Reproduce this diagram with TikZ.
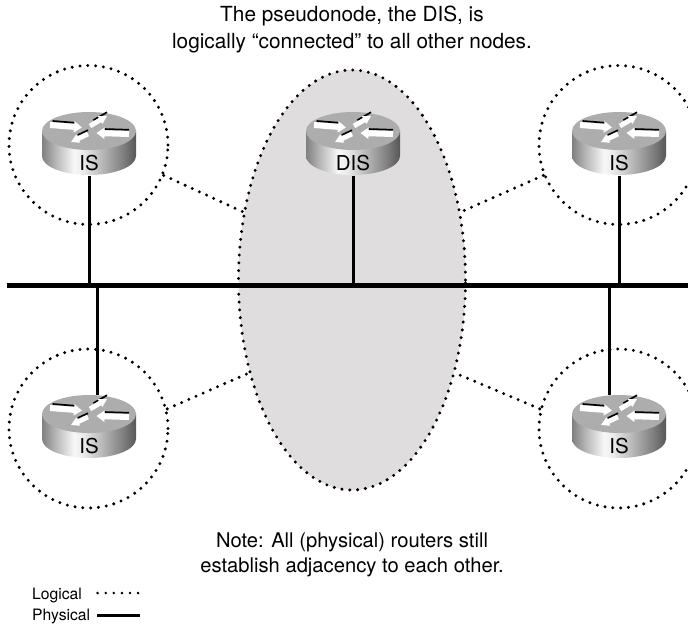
\documentclass[tikz,border=0pt]{standalone}
\usepackage{fontspec}
\setmainfont{TeX Gyre Heros}
\usetikzlibrary{shapes.geometric,calc}
\definecolor{pseudo}{HTML}{E0DDDE}
\pgfdeclarehorizontalshading{rside}{100bp}{
  color(0bp)=(black!50); color(25bp)=(black!50); color(31bp)=(black!32);
  color(42bp)=(black!3); color(47bp)=(black!8); color(58bp)=(black!30);
  color(68bp)=(black!50); color(75bp)=(black!66); color(100bp)=(black!66)}
\tikzset{
  dotline/.style={line width=3.3pt,line cap=round,dash pattern=on 0pt off 7.85pt},
  logical/.style={draw,dotline,shape=circle,minimum size=159pt,inner sep=0pt},
  pseudonode/.style={shape=ellipse,fill=pseudo,draw,dotline,minimum width=227pt,minimum height=420pt,inner sep=0pt},
  bus/.style={line width=5pt},
  phys/.style={line width=3pt},
  rnode/.style={shape=rectangle,minimum width=94pt,minimum height=63pt,inner sep=0pt},
  rlabel/.style={font=\fontsize{20.5}{20.5}\selectfont,inner sep=0pt},
  legend/.style={font=\fontsize{15.7}{16}\selectfont,anchor=west,inner sep=0pt},
  legdots/.style={line width=2.8pt,line cap=round,dash pattern=on 0pt off 8.1pt},
}
\newcommand{\rarrow}[9]{% tail x,y; tip x,y; shaft half width; head half width; black-line start and end fractions; black offset
  \pgfmathsetmacro{\ang}{-atan2(#4-#2,#3-#1)}
  \pgfmathsetmacro{\len}{veclen(#3-#1,#4-#2)}
  \draw[line width=1.7pt,black] ($(#1,#2)!#7!(#3,#4)+(0,#9)$) -- ($(#1,#2)!#8!(#3,#4)+(0,#9)$);
  \begin{scope}[shift={(#1,#2)},rotate=\ang]
    \fill[white] (0,-#5) -- (\len-8,-#5) -- (\len-8,-#6) -- (\len,0) -- (\len-8,#6) -- (\len-8,#5) -- (0,#5) -- cycle;
  \end{scope}
}
\newcommand{\router}[2]{% centre of the top ellipse
  \begin{scope}[shift={(#1,#2)}]
    \shade[shading=rside] (-47,0) -- (-47,25)
      .. controls (-47,35.5) and (-26,44) .. (0,44)
      .. controls (26,44) and (47,35.5) .. (47,25) -- (47,0) -- cycle;
    \fill[black!32] (0,0) ellipse[x radius=47,y radius=19];
    \rarrow{-39}{-6}{-7}{-3.5}{3}{5.8}{.08}{.8}{-4.2}
    \rarrow{40}{3}{7.5}{2}{3}{5.8}{0}{.75}{-4.2}
    \rarrow{1}{-5}{18}{-15}{2.4}{4.6}{.2}{1}{-3.8}
    \rarrow{-1}{3}{-18}{11}{2.4}{4.6}{0}{.6}{-3.8}
  \end{scope}
}
\begin{document}
\begin{tikzpicture}[x=1pt,y=-1pt]
\useasboundingbox (0,0) rectangle (688,624);
\clip (0,0) rectangle (688,624);
% pseudonode
\node[pseudonode] (pn) at (352,280) {};
% logical circles
\node[logical] (c1) at (88.5,145) {};
\node[logical] (c2) at (618.5,145) {};
\node[logical] (c3) at (88.5,428.5) {};
\node[logical] (c4) at (618.5,428.5) {};
% routers
\router{89}{131}
\router{353}{131}
\router{619}{131}
\router{89}{414}
\router{619}{414}
\node[rnode] (r1) at (89,144) {};
\node[rnode] (r0) at (353,144) {};
\node[rnode] (r2) at (619,144) {};
\node[rnode] (r3) at (89,427) {};
\node[rnode] (r4) at (619,427) {};
\node[rlabel] (l1) at (89,163) {IS};
\node[rlabel] (l0) at (353,163) {DIS};
\node[rlabel] (l2) at (619,163) {IS};
\node[rlabel] (l3) at (89,446) {IS};
\node[rlabel] (l4) at (619,446) {IS};
% bus
\coordinate (busL) at (7,285);
\coordinate (busR) at (688,285);
\coordinate (t1) at (89,285);
\coordinate (t0) at (353,285);
\coordinate (t2) at (619,285);
\coordinate (t3) at (97,285);
\coordinate (t4) at (609,285);
\draw[bus] (busL) -- (busR);
\draw[phys] (r1.south) -- (t1);
\draw[phys] (r0.south) -- (t0);
\draw[phys] (r2.south) -- (t2);
\draw[phys] (t3) -- (r3.north -| t3);
\draw[phys] (t4) -- (r4.north -| t4);
% logical connectors
\draw[dotline] (c1.-22) -- (pn.148);
\draw[dotline] (c2.202) -- (pn.32);
\draw[dotline] (c3.14) -- (pn.222);
\draw[dotline] (c4.166) -- (pn.318);
% captions
\node[font=\fontsize{20.8}{27}\selectfont,align=center,inner sep=0pt] (top) at (352,29) {The pseudonode, the DIS, is\\logically “connected” to all other nodes.};
\node[font=\fontsize{20.2}{25}\selectfont,align=center,inner sep=0pt] (note) at (352,555) {Note: All (physical) routers still\\establish adjacency to each other.};
% legend
\node[legend] (lgl) at (32,595) {Logical};
\node[legend] (lgp) at (32,616) {Physical};
\coordinate (d1) at (97.6,593);
\coordinate (d2) at (139,593);
\coordinate (p1) at (97,615);
\coordinate (p2) at (140,615);
\draw[legdots] (d1) -- (d2);
\draw[line width=3pt] (p1) -- (p2);
\end{tikzpicture}
\end{document}
